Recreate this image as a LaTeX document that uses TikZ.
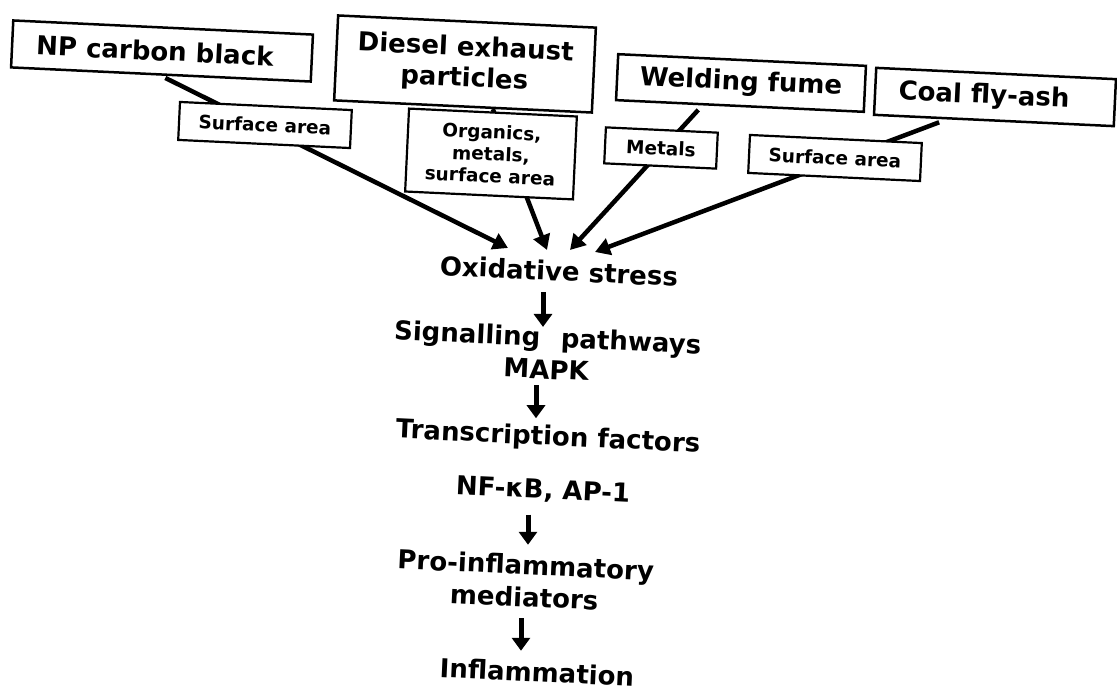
\documentclass[tikz,border=0pt]{standalone}
\usepackage{fontspec}
\setmainfont{DejaVu Sans}
\usetikzlibrary{arrows.meta,calc}
\begin{document}
\begin{tikzpicture}[x=1pt,y=1pt,
  tilt/.style={rotate=-2.7},
  srcbox/.style={draw, line width=2.5pt, fill=white, inner sep=0pt, align=center,
    font=\fontsize{26}{31}\selectfont\bfseries, tilt},
  lblbox/.style={draw, line width=2.2pt, fill=white, inner sep=0pt, align=center,
    font=\fontsize{18.5}{22}\selectfont\bfseries, tilt},
  stage/.style={inner sep=0pt, align=center,
    font=\fontsize{26}{32}\selectfont\bfseries, tilt},
  feed/.style={line width=4.5pt, -{Triangle[length=15pt,width=17pt]}},
  flow/.style={line width=5pt, -{Triangle[length=13pt,width=18pt]}}
]
\useasboundingbox (0,0) rectangle (1117,-692);

% particle sources
\node[srcbox, minimum width=300pt, minimum height=47pt] (np) at (162,-51) {NP carbon black\hspace*{14pt}};
\node[srcbox, minimum width=258pt, minimum height=85pt] (de) at (465,-64) {Diesel exhaust\\particles};
\node[srcbox, minimum width=248pt, minimum height=46pt] (wf) at (741,-83) {Welding fume};
\node[srcbox, minimum width=240pt, minimum height=47pt] (cf) at (995,-97) {Coal fly-ash\hspace*{22pt}};

% response chain
\node[stage] (ox)  at (559,-271) {Oxidative stress};
\node[stage] (sig) at (547,-353) {Signalling\hspace{0.45em} pathways\\MAPK};
\node[stage] (tf)  at (548,-438) {Transcription factors};
\node[stage] (nf)  at (543,-491) {NF-κB, AP-1};
\node[stage] (pro) at (525,-581) {Pro-inflammatory\\mediators};
\node[stage] (inf) at (537,-672) {Inflammation};

% arrow tips above the oxidative-stress label
\coordinate (e1) at (508,-248);
\coordinate (e2) at (547,-250);
\coordinate (e3) at (570,-250);
\coordinate (e4) at (595,-252);

% source connectors, passing under the property labels
\draw[feed, shorten <=5pt] (np.south) -- (e1);
\draw[feed] ($(de.south)!0.23!(de.south east)$) -- (e2);
\draw[feed, shorten <=6pt] ($(wf.south)!0.3!(wf.south west)$) -- (e3);
\draw[feed, shorten <=8pt] ($(cf.south)!0.39!(cf.south west)$) -- (e4);

% particle properties
\node[lblbox, minimum width=172pt, minimum height=38pt] (sa1) at (265,-125) {Surface area};
\node[lblbox, minimum width=168pt, minimum height=83pt] (org) at (491,-154) {Organics,\\metals,\\surface area};
\node[lblbox, minimum width=112pt, minimum height=36pt] (met) at (661,-148) {Metals};
\node[lblbox, minimum width=172pt, minimum height=38pt] (sa2) at (835,-158) {Surface area};

% vertical steps
\coordinate (m1) at (543,0);
\coordinate (m2) at (536,0);
\coordinate (m3) at (528,0);
\coordinate (m4) at (521,0);
\draw[flow, shorten <=11pt] (ox.south -| m1) -- (sig.north -| m1);
\draw[flow, shorten <=6pt, shorten >=7pt] (sig.south -| m2) -- (tf.north -| m2);
\draw[flow, shorten <=12pt, shorten >=10pt] (nf.south -| m3) -- (pro.north -| m3);
\draw[flow, shorten <=11pt, shorten >=11pt] (pro.south -| m4) -- (inf.north -| m4);
\end{tikzpicture}
\end{document}
